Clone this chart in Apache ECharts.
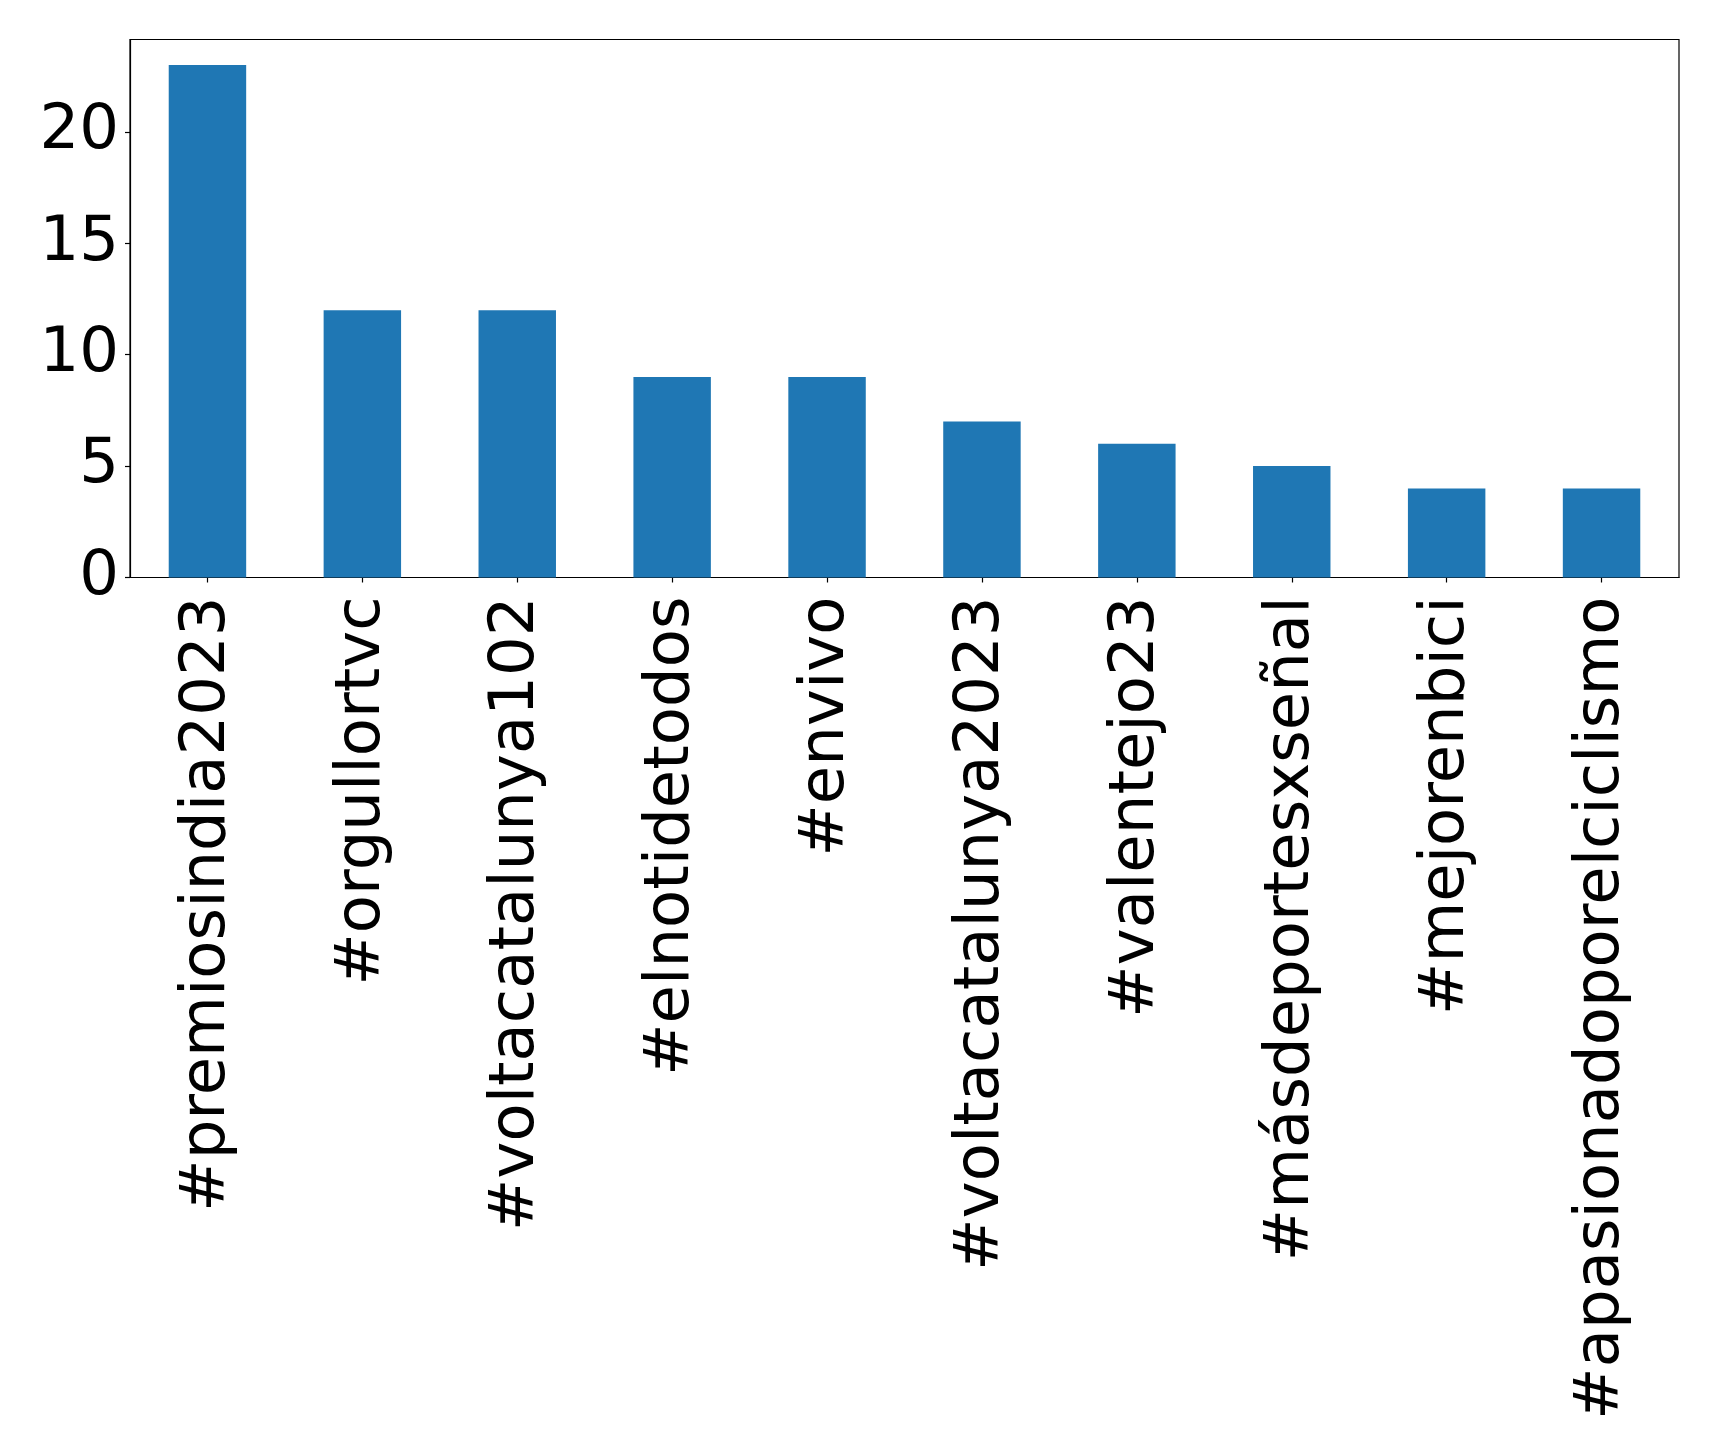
<!DOCTYPE html>
<html>
<head>
<meta charset="utf-8">
<script src="https://cdn.jsdelivr.net/npm/echarts@6/dist/echarts.min.js"></script>
<style>
html,body{margin:0;padding:0;background:#fff;}
#chart{width:1719px;height:1451px;}
</style>
</head>
<body>
<div id="chart"></div>
<script>
const categories = ['#premiosindia2023','#orgullortvc','#voltacatalunya102','#elnotidetodos','#envivo','#voltacatalunya2023','#valentejo23','#másdeportesxseñal','#mejorenbici','#apasionadoporelciclismo'];
const counts = [23, 12, 12, 9, 9, 7, 6, 5, 4, 4];
const yTicks = [0, 5, 10, 15, 20];

const chart = echarts.init(document.getElementById('chart'), null, {renderer: 'canvas'});
chart.setOption({
  backgroundColor: '#ffffff',
  animation: false,
  textStyle: {fontFamily: 'DejaVu Sans'},
  grid: {left: 130, right: 40, top: 39.5, bottom: 873.5, show: true, borderColor: '#000', borderWidth: 1.2, backgroundColor: 'transparent'},
  xAxis: {
    type: 'category',
    data: categories,
    boundaryGap: true,
    axisLine: {show: true, lineStyle: {color: '#000', width: 1.2}},
    axisTick: {show: true, alignWithLabel: true, length: 5, lineStyle: {color: '#000', width: 1.2}},
    axisLabel: {rotate: 90, interval: 0, margin: 19, color: '#000', fontSize: 62.5, fontFamily: 'DejaVu Sans'},
    splitLine: {show: false}
  },
  yAxis: {
    type: 'value',
    min: 0,
    max: 24.15,
    interval: 5,
    axisLine: {show: true, lineStyle: {color: '#000', width: 1.2}},
    axisTick: {show: true, length: 5, lineStyle: {color: '#000', width: 1.2}, customValues: yTicks},
    axisLabel: {color: '#000', fontSize: 62.5, margin: 11, fontFamily: 'DejaVu Sans', customValues: yTicks},
    splitLine: {show: false}
  },
  series: [{
    type: 'bar',
    data: counts,
    barWidth: '50%',
    itemStyle: {color: '#1f77b4'}
  }]
});
</script>
</body>
</html>
